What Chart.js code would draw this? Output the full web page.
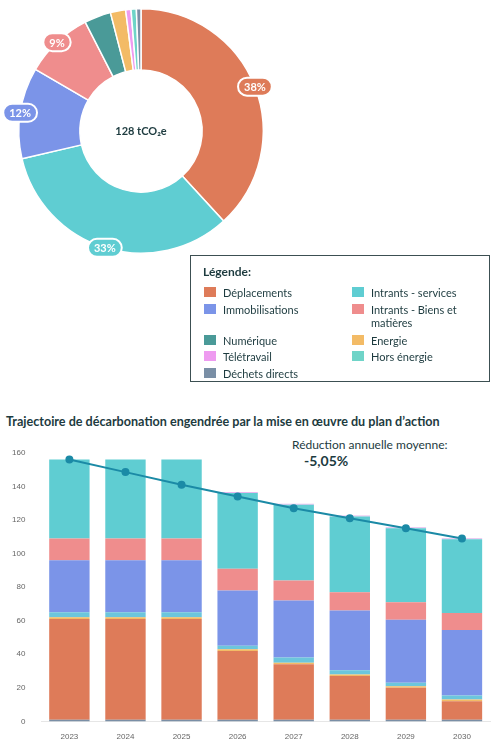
<!DOCTYPE html>
<html><head><meta charset="utf-8">
<script src="https://cdn.jsdelivr.net/npm/chart.js@4"></script>
<style>
body{margin:0;width:500px;height:749px;position:relative;font-family:Lato,"Noto Sans",sans-serif;color:#1d3b3f;background:#fff;overflow:hidden}
#donutWrap{position:absolute;left:0;top:0;width:282px;height:262px}
#legend{position:absolute;left:190px;top:255px;width:300px;height:127px;border:1px solid #3c4f52;box-sizing:border-box;font-size:11px}
#legend .t{position:absolute;left:12px;top:8px;font-weight:bold;font-size:12px}
#legend .i{position:absolute;display:flex;align-items:flex-start;line-height:13px}
#legend .i span{display:inline-block;width:12px;height:10px;margin-right:7px;margin-top:1px;flex:none}
#title{position:absolute;left:6px;top:414px;font-weight:bold;font-size:12.6px;white-space:nowrap}
#sub{position:absolute;left:292px;top:437px;font-size:12px}
#sub b{font-size:14px;margin-left:12px}
#barWrap{position:absolute;left:0;top:440px;width:500px;height:309px}
</style></head><body>
<div id="donutWrap"><canvas id="donut"></canvas></div>
<div id="legend"><div class="t">Légende:</div></div>
<div id="title">Trajectoire de décarbonation engendrée par la mise en œuvre du plan d’action</div>
<div id="sub">Réduction annuelle moyenne: <b>-5,05%</b></div>
<div id="barWrap"><canvas id="bars"></canvas></div>
<script>
const donutLabels = ["Déplacements","Intrants - services","Immobilisations","Intrants - Biens et matières","Numérique","Energie","Télétravail","Hors énergie","Déchets directs"];
const donutValues = [38,33,12,9,3.5,2,0.7,0.7,0.6];
const donutColors = ["#de7b59","#5fcdd2","#7b94e8","#ef8d8d","#4a9a98","#f3bb66","#ee9bf0","#6fd4c8","#7a8fa6"];

const years = ["2023","2024","2025","2026","2027","2028","2029","2030"];
const dechets = [1,1,1,1,1,1,1,1];
const deplacements = [60,60,60,41,33,26,19,11];
const energie = [1,1,1,1,1,1,1,1];
const numerique = [3,3,3,2,3,2.5,2,2.5];
const immobilisations = [31,31,31,33,34,35.5,37.5,39];
const intrantsBiens = [13,13,13,13,12,11,10.5,10];
const intrantsServices = [47,47,47,45,45,45,44,44];
const teletravail = [0,0,0,0.6,0.6,0.6,0.6,0.6];
const trajectoire = [156,148.5,141,134,127,121,115,109];

const legendItems = [
  ["Déplacements","#de7b59",203,285],["Intrants - services","#5fcdd2",351,285],
  ["Immobilisations","#7b94e8",203,302],["Intrants - Biens et<br>matières","#ef8d8d",351,302],
  ["Numérique","#4a9a98",203,333],["Energie","#f3bb66",351,333],
  ["Télétravail","#ee9bf0",203,349],["Hors énergie","#6fd4c8",351,349],
  ["Déchets directs","#7a8fa6",203,366]
];
const lg = document.getElementById("legend");
legendItems.forEach(([t,c,x,y]) => {
  const d = document.createElement("div");
  d.className = "i";
  d.style.left = (x-190)+"px"; d.style.top = (y-255)+"px";
  d.innerHTML = `<span style="background:${c}"></span><div>${t}</div>`;
  lg.appendChild(d);
});

const pillPlugin = {
  id: "pills",
  afterDatasetsDraw(chart) {
    const c = chart.ctx;
    const meta = chart.getDatasetMeta(0);
    meta.data.forEach((arc, i) => {
      const v = donutValues[i];
      if (v < 9) return;
      const a = (arc.startAngle + arc.endAngle) / 2;
      const r = arc.outerRadius;
      const x = arc.x + Math.cos(a) * r, y = arc.y + Math.sin(a) * r;
      const txt = v + "%";
      c.font = "bold 11px Lato";
      const w = c.measureText(txt).width + 12, h = 18;
      c.beginPath();
      c.roundRect(x - w/2, y - h/2, w, h, 9);
      c.fillStyle = donutColors[i]; c.fill();
      c.lineWidth = 2; c.strokeStyle = "#fff"; c.stroke();
      c.fillStyle = "#fff"; c.textAlign = "center"; c.textBaseline = "middle";
      c.fillText(txt, x, y + 1);
    });
    c.font = "bold 11px Lato"; c.fillStyle = "#1d3b3f";
    c.textAlign = "center"; c.textBaseline = "middle";
    c.fillText("128 tCO₂e", meta.data[0].x, meta.data[0].y);
  }
};

new Chart(document.getElementById("donut"), {
  type: "doughnut",
  data: { labels: donutLabels, datasets: [{ data: donutValues, backgroundColor: donutColors, borderColor: "#fff", borderWidth: 1.5 }] },
  options: {
    responsive: true, maintainAspectRatio: false, animation: false, cutout: "50%",
    layout: { padding: 8 },
    plugins: { legend: { display: false }, tooltip: { enabled: false } }
  },
  plugins: [pillPlugin]
});

const ds = (label, data, color) => ({ type: "bar", label, data, backgroundColor: color, stack: "s", order: 2 });
new Chart(document.getElementById("bars"), {
  data: {
    labels: years,
    datasets: [
      { type: "line", label: "Trajectoire", data: trajectoire, borderColor: "#1b8aa6", backgroundColor: "#1b8aa6", borderWidth: 2, pointRadius: 3, order: 0 },
      ds("Déchets directs", dechets, "#7a8fa6"),
      ds("Déplacements", deplacements, "#de7b59"),
      ds("Energie", energie, "#f3bb66"),
      ds("Numérique", numerique, "#6cc6dc"),
      ds("Immobilisations", immobilisations, "#7b94e8"),
      ds("Intrants - Biens et matières", intrantsBiens, "#ef8d8d"),
      ds("Intrants - services", intrantsServices, "#5fcdd2"),
      ds("Télétravail", teletravail, "#e6b8ee")
    ]
  },
  options: {
    responsive: true, maintainAspectRatio: false, animation: false,
    layout: { padding: { top: 6, right: 10, left: 4, bottom: 4 } },
    datasets: { bar: { barPercentage: 0.72, categoryPercentage: 1 } },
    scales: {
      x: { stacked: true, grid: { display: false }, border: { color: "#e6e6e6" }, ticks: { color: "#666", font: { size: 8 } } },
      y: { stacked: true, min: 0, max: 160, grid: { display: false }, border: { display: false },
           ticks: { stepSize: 20, color: "#666", font: { size: 8 }, padding: 8 } }
    },
    plugins: { legend: { display: false }, tooltip: { enabled: false } }
  }
});
</script>
</body></html>
